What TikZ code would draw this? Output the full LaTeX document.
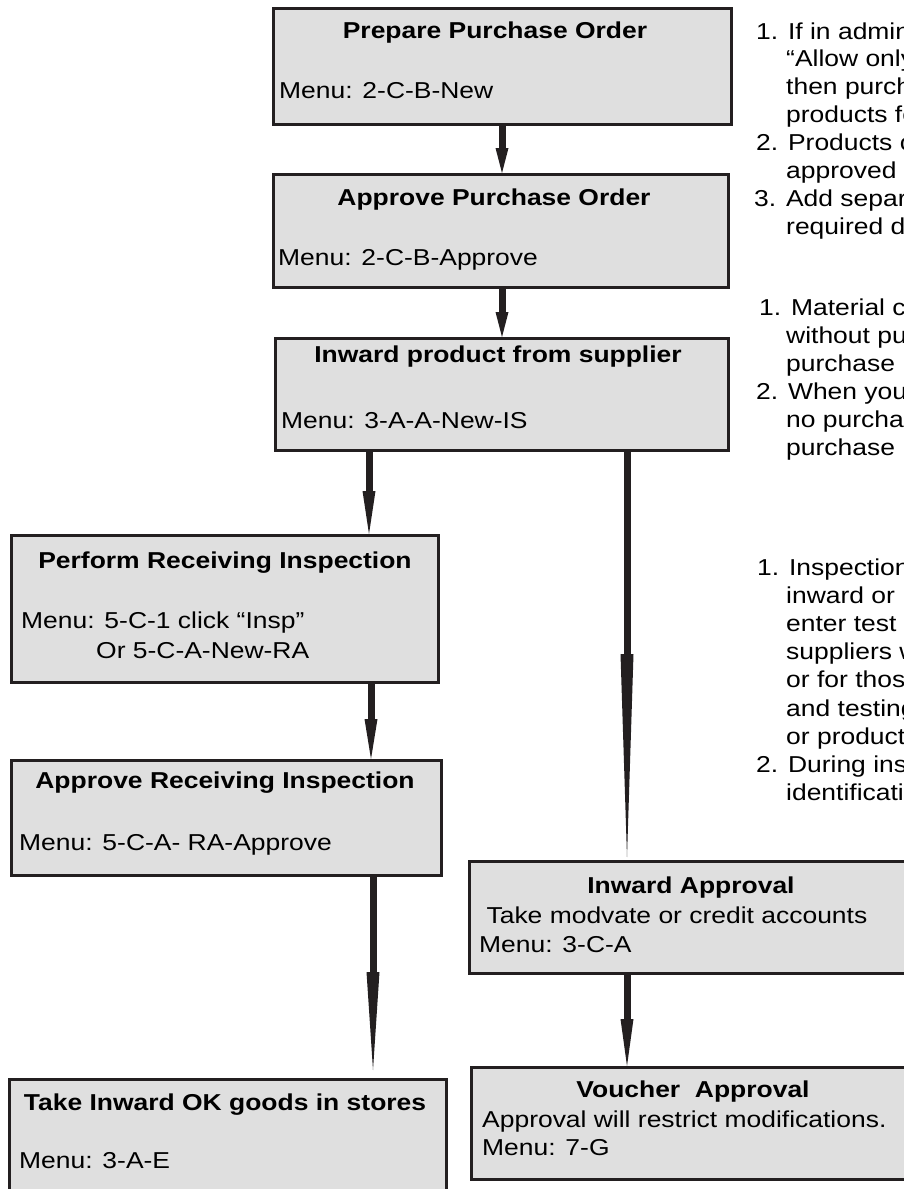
\documentclass[tikz,border=0pt]{standalone}
\usepackage{fontspec}
\setmainfont{Liberation Sans}[FakeStretch=1.15]
\usetikzlibrary{arrows.meta}
\definecolor{ink}{HTML}{231F20}
\definecolor{boxgray}{HTML}{DFDFDF}
\tikzset{
  stepbox/.style={draw=ink, line width=3pt, fill=boxgray, anchor=north west, inner sep=0pt},
  title/.style={anchor=base, inner sep=0pt, font=\fontsize{23}{28}\selectfont\bfseries, text=black},
  menu/.style={anchor=base west, inner sep=0pt, font=\fontsize{23}{28}\selectfont, text=black},
  note/.style={anchor=base west, inner sep=0pt, font=\fontsize{23}{28}\selectfont, text=black},
  flow/.style={draw=ink, line width=7pt, -{Triangle[length=#1, width=13pt, line width=0pt]}}
}
\begin{document}
\begin{tikzpicture}[x=1pt, y=-1pt]
\useasboundingbox (0,0) rectangle (904,1189);
\clip (0,0) rectangle (904,1189);

% process boxes
\node[stepbox, minimum width=458pt, minimum height=116pt] (b1) at (272,7) {};
\node[stepbox, minimum width=455pt, minimum height=113pt] (b2) at (272,173) {};
\node[stepbox, minimum width=453pt, minimum height=112pt] (b3) at (274,337) {};
\node[stepbox, minimum width=427pt, minimum height=147pt] (b4) at (10,534) {};
\node[stepbox, minimum width=430pt, minimum height=115pt] (b5) at (10,759) {};
\node[stepbox, minimum width=470pt, minimum height=112pt] (b6) at (468,860) {};
\node[stepbox, minimum width=470pt, minimum height=112pt] (b7) at (470,1066) {};
\node[stepbox, minimum width=437pt, minimum height=172pt] (b8) at (8,1078) {};

% box texts
\node[title] (t1) at (495,38) {Prepare Purchase Order};
\node[menu]  (m1) at (279,98) {Menu: 2-C-B-New};
\node[title] (t2) at (494,205) {Approve Purchase Order};
\node[menu]  (m2) at (278,265) {Menu: 2-C-B-Approve};
\node[title] (t3) at (498,362) {Inward product from supplier};
\node[menu]  (m3) at (281,428) {Menu: 3-A-A-New-IS};
\node[title] (t4) at (225,568) {Perform Receiving Inspection};
\node[menu]  (m4a) at (21,628) {Menu: 5-C-1 click “Insp”};
\node[menu]  (m4b) at (96,658) {Or 5-C-A-New-RA};
\node[title] (t5) at (225,788) {Approve Receiving Inspection};
\node[menu]  (m5) at (19,850) {Menu: 5-C-A- RA-Approve};
\node[title] (t6) at (691,893) {Inward Approval};
\node[menu]  (m6a) at (479,923) {\ Take modvate or credit accounts};
\node[menu]  (m6b) at (479,952) {Menu: 3-C-A};
\node[title] (t7) at (693,1097) {Voucher\ \ Approval};
\node[menu]  (m7a) at (482,1127) {Approval will restrict modifications.};
\node[menu]  (m7b) at (482,1155) {Menu: 7-G};
\node[title] (t8) at (225,1110) {Take Inward OK goods in stores};
\node[menu]  (m8) at (19,1168) {Menu: 3-A-E};

% side notes
\node[note] (n11) at (756,39)    {1. If in admin};
\node[note] (n12) at (786,66.9)  {“Allow only};
\node[note] (n13) at (786,94.8)  {then purch};
\node[note] (n14) at (786,122.7) {products fo};
\node[note] (n15) at (756,150.6) {2. Products c};
\node[note] (n16) at (786,178.5) {approved};
\node[note] (n17) at (754,206.4) {3. Add separ};
\node[note] (n18) at (786,234.3) {required d};

\node[note] (n21) at (759,315) {1. Material ca};
\node[note] (n22) at (786,343) {without pu};
\node[note] (n23) at (786,371) {purchase};
\node[note] (n24) at (756,399) {2. When you};
\node[note] (n25) at (786,427) {no purcha};
\node[note] (n26) at (786,455) {purchase};

\node[note] (n31) at (757,575)   {1. Inspection};
\node[note] (n32) at (786,603.2) {inward or};
\node[note] (n33) at (786,631.4) {enter test};
\node[note] (n34) at (786,659.6) {suppliers w};
\node[note] (n35) at (786,687.8) {or for thos};
\node[note] (n36) at (786,716)   {and testing};
\node[note] (n37) at (786,744.2) {or product};
\node[note] (n38) at (756,772.4) {2. During ins};
\node[note] (n39) at (786,800.6) {identificati};

% connector lanes
\coordinate (x1) at (502,0);
\coordinate (x3) at (369,0);
\coordinate (x4) at (371,0);
\coordinate (x5) at (373,0);
\coordinate (x6) at (627,0);

% connectors
\draw[flow=25pt]  (b1.south -| x1) -- (b2.north -| x1);
\draw[flow=25pt]  (b2.south -| x1) -- (b3.north -| x1);
\draw[flow=43pt]  (b3.south -| x3) -- (b4.north -| x3);
\draw[flow=40pt]  (b4.south -| x4) -- (b5.north -| x4);
\draw[flow=98pt, shorten >=8pt]  (b5.south -| x5) -- (b8.north -| x5);
\draw[flow=203pt, shorten >=3pt] (b3.south -| x6) -- (b6.north -| x6);
\draw[flow=47pt]  (b6.south -| x6) -- (b7.north -| x6);
\end{tikzpicture}
\end{document}
